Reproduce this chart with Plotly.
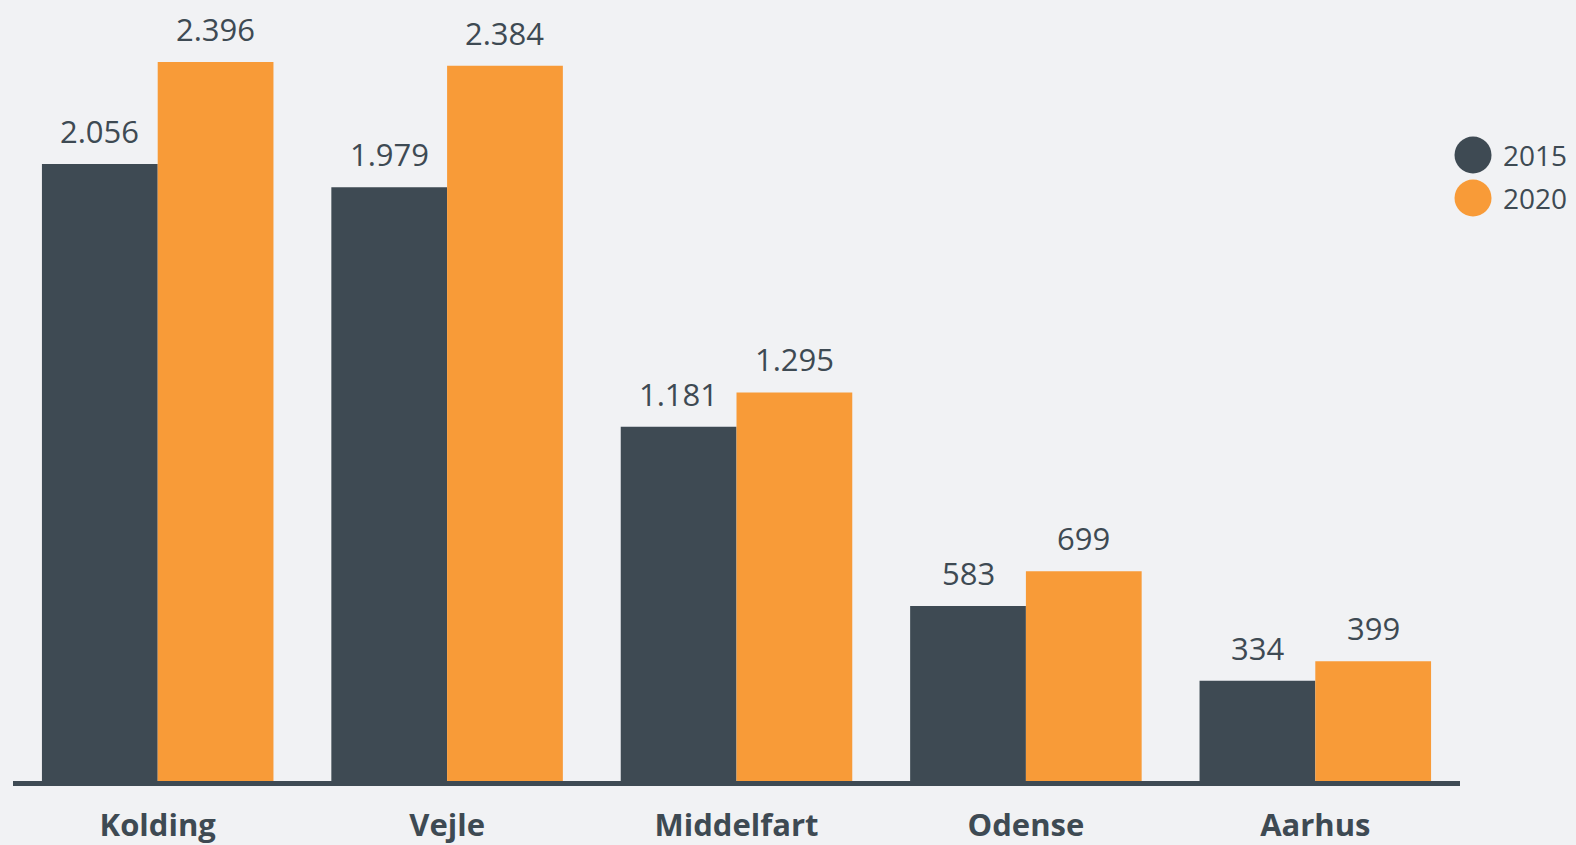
import plotly.graph_objects as go

categories = ["Kolding", "Vejle", "Middelfart", "Odense", "Aarhus"]
series_names = ["2015", "2020"]
values_2015 = [2056, 1979, 1181, 583, 334]
values_2020 = [2396, 2384, 1295, 699, 399]

DARK = "#3e4a53"
ORANGE = "#f89b38"
BG = "#f1f2f4"


def fmt(v):
    return f"{v:,}".replace(",", ".")


x_idx = list(range(len(categories)))

fig = go.Figure()
for name, vals, col in [(series_names[0], values_2015, DARK), (series_names[1], values_2020, ORANGE)]:
    fig.add_trace(go.Bar(x=x_idx, y=vals, name=name, marker=dict(color=col, line=dict(width=0)),
                         showlegend=False, hoverinfo="skip"))

annotations = []
for off, vals in [(-0.2, values_2015), (0.2, values_2020)]:
    for i, v in enumerate(vals):
        annotations.append(dict(x=i + off, y=v, xref="x", yref="y", text=fmt(v), showarrow=False,
                                yanchor="bottom", yshift=10,
                                font=dict(family="Open Sans", size=31, color=DARK)))

# legend (manual, large circles)
shapes = []
for k, (name, col) in enumerate([(series_names[0], DARK), (series_names[1], ORANGE)]):
    yc = 0.8015 - k * 0.055
    shapes.append(dict(type="circle", xref="paper", yref="paper", xsizemode="pixel", ysizemode="pixel",
                       xanchor=1.009, yanchor=yc, x0=-18.5, x1=18.5, y0=-18.5, y1=18.5,
                       fillcolor=col, line=dict(width=0)))
    annotations.append(dict(x=1.0284, y=yc, xref="paper", yref="paper", text=name, showarrow=False,
                            xanchor="left", yanchor="middle",
                            font=dict(family="Open Sans", size=28, color=DARK)))

fig.update_layout(
    width=1576, height=845,
    margin=dict(l=13, r=116, t=0, b=64),
    paper_bgcolor=BG, plot_bgcolor=BG,
    barmode="group", bargap=0.2, bargroupgap=0,
    showlegend=False,
    annotations=annotations,
    shapes=shapes,
    xaxis=dict(tickmode="array", tickvals=x_idx, ticktext=categories, range=[-0.5, 4.5],
               showgrid=False, zeroline=False, showline=True, linewidth=5, linecolor=DARK,
               ticks="", ticklabelstandoff=13,
               tickfont=dict(family="Open Sans", size=31, color=DARK, weight="bold")),
    yaxis=dict(range=[0, 2603], visible=False, showgrid=False, zeroline=False),
)

fig.write_html("out.html", config={"displayModeBar": False},
               post_script="document.body.style.margin='0';document.body.style.overflow='hidden';")
